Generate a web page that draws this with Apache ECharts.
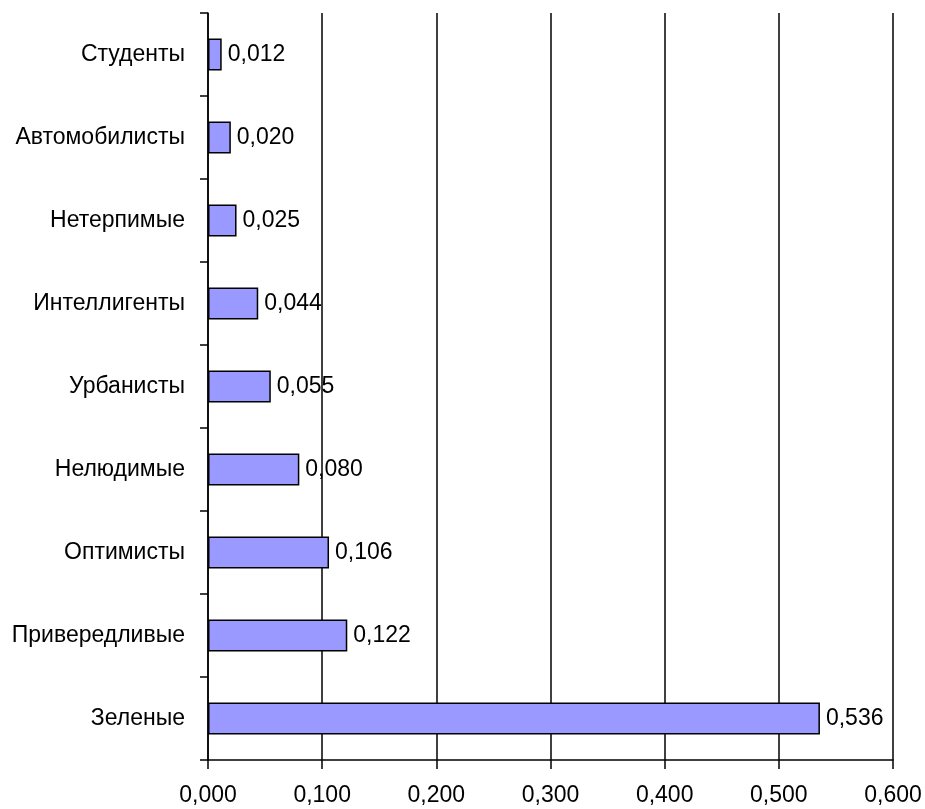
<!DOCTYPE html>
<html>
<head>
<meta charset="utf-8">
<style>
  html, body { margin: 0; padding: 0; background: #fff; }
  #chart { width: 925px; height: 809px; }
</style>
<script src="https://cdn.jsdelivr.net/npm/echarts@6/dist/echarts.min.js"></script>
</head>
<body>
<div id="chart"></div>
<script>
// Segments, top to bottom
const categories = [
  'Студенты', 'Автомобилисты', 'Нетерпимые', 'Интеллигенты', 'Урбанисты',
  'Нелюдимые', 'Оптимисты', 'Привередливые', 'Зеленые'
];
// Share of each segment
const shares = [0.012, 0.020, 0.025, 0.044, 0.055, 0.080, 0.106, 0.122, 0.536];
// Value axis range and step
const axisMin = 0;
const axisMax = 0.6;
const axisStep = 0.1;

const FONT = '"Liberation Sans", Arial, sans-serif';
const FONT_SIZE = 23;
const fmt = v => Number(v).toFixed(3).replace('.', ',');

const chart = echarts.init(document.getElementById('chart'), null, { renderer: 'canvas' });
chart.setOption({
  animation: false,
  backgroundColor: '#ffffff',
  grid: { left: 208, right: 32, top: 13, bottom: 49, containLabel: false },
  xAxis: {
    type: 'value',
    min: axisMin,
    max: axisMax,
    interval: axisStep,
    axisLine: { show: true, lineStyle: { color: '#000', width: 1.5 } },
    axisTick: { show: true, length: 9, inside: false, lineStyle: { color: '#000', width: 1.5 } },
    splitLine: { show: true, lineStyle: { color: '#000', width: 1.5 } },
    axisLabel: {
      margin: 24,
      color: '#000',
      fontFamily: FONT,
      fontSize: FONT_SIZE,
      formatter: fmt
    }
  },
  yAxis: {
    type: 'category',
    data: categories,
    inverse: true,
    boundaryGap: true,
    axisLine: { show: true, lineStyle: { color: '#000', width: 1.5 } },
    axisTick: { show: true, length: 8, inside: false, alignWithLabel: false, lineStyle: { color: '#000', width: 1.5 } },
    splitLine: { show: false },
    axisLabel: {
      margin: 23,
      color: '#000',
      fontFamily: FONT,
      fontSize: FONT_SIZE
    }
  },
  series: [{
    type: 'bar',
    data: shares,
    barWidth: 32,
    itemStyle: { color: '#9999ff', borderColor: '#000', borderWidth: 1.5 },
    label: {
      show: true,
      position: 'right',
      distance: 6,
      color: '#000',
      fontFamily: FONT,
      fontSize: FONT_SIZE,
      formatter: p => fmt(p.value)
    },
    z: 3
  }]
});
</script>
</body>
</html>
